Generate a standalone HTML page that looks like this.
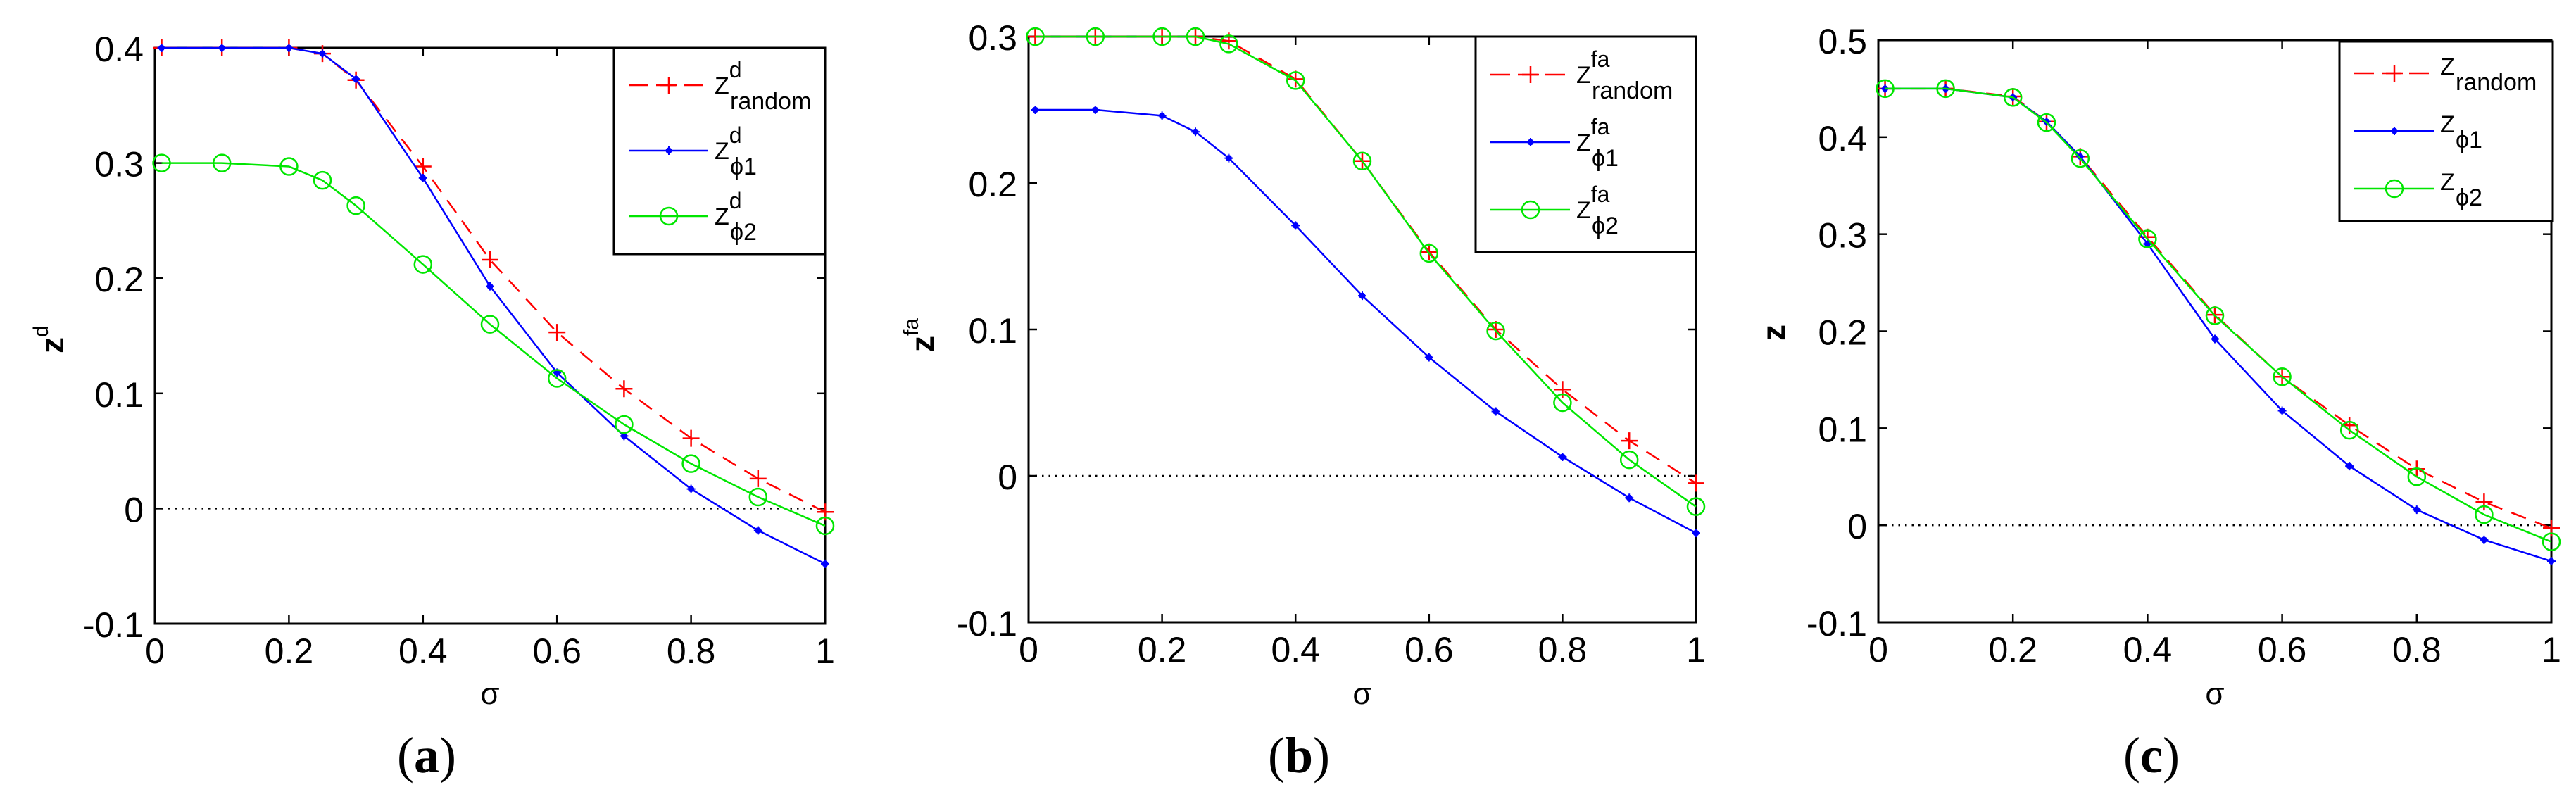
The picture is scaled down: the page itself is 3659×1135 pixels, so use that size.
<!DOCTYPE html>
<html><head><meta charset="utf-8"><style>
html,body{margin:0;padding:0;background:#fff;}
svg{display:block;}
</style></head><body>
<svg id="fig" width="3659" height="1135" viewBox="0 0 3659 1135" xmlns="http://www.w3.org/2000/svg" font-family="Liberation Sans, sans-serif"></svg>
<script>
const xVals = [0.01,0.1,0.2,0.25,0.3,0.4,0.5,0.6,0.7,0.8,0.9,1.0];
const xTicks = [0,0.2,0.4,0.6,0.8,1];
const xTickLabels = ["0","0.2","0.4","0.6","0.8","1"];

const aRandom = [0.4,0.4,0.4,0.395,0.372,0.297,0.216,0.153,0.104,0.061,0.026,-0.003];
const aPhi1   = [0.4,0.4,0.4,0.395,0.373,0.287,0.193,0.118,0.063,0.017,-0.019,-0.048];
const aPhi2   = [0.3,0.3,0.297,0.285,0.263,0.212,0.16,0.113,0.073,0.039,0.01,-0.015];
const aYTicks = [-0.1,0,0.1,0.2,0.3,0.4];
const aYTickLabels = ["-0.1","0","0.1","0.2","0.3","0.4"];

const bRandom = [0.3,0.3,0.3,0.3,0.297,0.271,0.215,0.153,0.1,0.059,0.024,-0.005];
const bPhi1   = [0.25,0.25,0.246,0.235,0.217,0.171,0.123,0.081,0.044,0.013,-0.015,-0.039];
const bPhi2   = [0.3,0.3,0.3,0.3,0.295,0.27,0.215,0.152,0.099,0.05,0.011,-0.021];
const bYTicks = [-0.1,0,0.1,0.2,0.3];
const bYTickLabels = ["-0.1","0","0.1","0.2","0.3"];

const cRandom = [0.45,0.45,0.442,0.416,0.38,0.297,0.217,0.153,0.103,0.058,0.024,-0.003];
const cPhi1   = [0.45,0.45,0.441,0.416,0.38,0.29,0.192,0.118,0.061,0.016,-0.015,-0.037];
const cPhi2   = [0.45,0.45,0.441,0.415,0.378,0.295,0.216,0.153,0.098,0.05,0.011,-0.017];
const cYTicks = [-0.1,0,0.1,0.2,0.3,0.4,0.5];
const cYTickLabels = ["-0.1","0","0.1","0.2","0.3","0.4","0.5"];

const NS = "http://www.w3.org/2000/svg";
const svg = document.getElementById("fig");
function mk(tag, attrs, parent, text){
  const e = document.createElementNS(NS, tag);
  for (const k in attrs) e.setAttribute(k, attrs[k]);
  if (text !== undefined) e.textContent = text;
  (parent||svg).appendChild(e);
  return e;
}

function panel(cfg){
  const g = mk("g", {});
  
  
  const L=cfg.L,R=cfg.R,T=cfg.T,B=cfg.B,y0=cfg.ymin,y1=cfg.ymax;
  const sx = v => L + (v-0)*(R-L)/1;
  const sy = v => B - (v-y0)*(B-T)/(y1-y0);
  const z = mk("line",{x1:L,x2:R,y1:sy(0),y2:sy(0),stroke:"#000","stroke-width":2.5,"stroke-dasharray":"2.5 7"},g);
  
  
  xTicks.forEach((t,i)=>{
    const x = sx(t);
    mk("line",{x1:x,x2:x,y1:B,y2:B-12,stroke:"#000","stroke-width":2.5},g);
    mk("line",{x1:x,x2:x,y1:T,y2:T+12,stroke:"#000","stroke-width":2.5},g);
    const tl = mk("text",{x:x,y:B+56,"font-size":50,"text-anchor":"middle",fill:"#000"},g,xTickLabels[i]);
    
    
  });
  cfg.yTicks.forEach((t,i)=>{
    const y = sy(t);
    mk("line",{x1:L,x2:L+12,y1:y,y2:y,stroke:"#000","stroke-width":2.5},g);
    mk("line",{x1:R,x2:R-12,y1:y,y2:y,stroke:"#000","stroke-width":2.5},g);
    const tl = mk("text",{x:L-16,y:y+19,"font-size":50,"text-anchor":"end",fill:"#000"},g,cfg.yTickLabels[i]);
    
    
  });
  const frame = mk("rect",{x:L,y:T,width:R-L,height:B-T,fill:"none",stroke:"#000","stroke-width":3},g);
  
  

  function series(vals, color, dash, marker, name){
    const sg = mk("g",{},g);
    
    
    const pts = vals.map((v,i)=>sx(xVals[i])+","+sy(v)).join(" ");
    const attrs = {points:pts,fill:"none",stroke:color,"stroke-width":2.5};
    if (dash) attrs["stroke-dasharray"]=dash;
    mk("polyline",attrs,sg);
    vals.forEach((v,i)=>drawMarker(sg, marker, sx(xVals[i]), sy(v), color));
  }
  series(cfg.random,"#ff0000","22 14","plus","series-random");
  series(cfg.phi1,"#0000ff",null,"dot","series-phi1");
  series(cfg.phi2,"#00e600",null,"circle","series-phi2");

  const lg = mk("g",{},g);
  
  
  const lx=cfg.legX, ly=cfg.legY, lw=cfg.legW, lh=cfg.legH;
  mk("rect",{x:lx,y:ly,width:lw,height:lh,fill:"#fff",stroke:"#000","stroke-width":3},lg);
  const rows=[["#ff0000","22 14","plus","random"],["#0000ff",null,"dot","\u03d51"],["#00e600",null,"circle","\u03d52"]];
  rows.forEach((r,i)=>{
    const y = ly + cfg.legRow0 + i*cfg.legStep;
    const e = mk("g",{},lg);
    
    
    const a = {x1:lx+21,x2:lx+134,y1:y,y2:y,stroke:r[0],"stroke-width":2.5};
    if (r[1]) a["stroke-dasharray"]="28 11";
    mk("line",a,e);
    drawMarker(e,r[2],lx+78,y,r[0]);
    if (cfg.sup){
      const t = mk("text",{x:lx+143,y:y+12,"font-size":34,fill:"#000"},e);
      mk("tspan",{},t,"Z");
      mk("tspan",{dy:-23,"font-size":32},t,cfg.sup);
      mk("tspan",{x:lx+165,dy:45,"font-size":34},t,r[3]);
    } else {
      mk("text",{x:lx+143,y:y+2,"font-size":34,fill:"#000"},e,"Z");
      mk("text",{x:lx+165,y:y+24,"font-size":34,fill:"#000"},e,r[3]);
    }
  });
  const yl = mk("text",{transform:`translate(${cfg.ylX},${cfg.ylY}) rotate(-90)`,"font-size":46,"font-weight":"bold",fill:"#000"},g);
  
  
  mk("tspan",{},yl,"z");
  if (cfg.sup) mk("tspan",{dy:-22,"font-size":30,"font-weight":"normal"},yl,cfg.sup);
  const xl = mk("text",{x:(L+R)/2,y:1000,"font-size":44,"text-anchor":"middle",fill:"#000"},g,"\u03c3");
  
  
  const cap = mk("text",{x:(L+R)/2 - 90,y:1097,"font-size":72,"text-anchor":"middle","font-family":"Liberation Serif, serif",fill:"#000"},g);
  
  
  mk("tspan",{},cap,"(");
  mk("tspan",{"font-weight":"bold"},cap,cfg.id);
  mk("tspan",{},cap,")");
}

function drawMarker(p, type, x, y, color){
  if (type==="plus"){
    mk("path",{d:`M${x-12},${y}H${x+12}M${x},${y-12}V${y+12}`,stroke:color,"stroke-width":2.5,fill:"none"},p);
  } else if (type==="dot"){
    mk("circle",{cx:x,cy:y,r:4.5,fill:color},p);
    mk("path",{d:`M${x-6},${y}H${x+6}M${x},${y-6}V${y+6}`,stroke:color,"stroke-width":2},p);
  } else {
    mk("circle",{cx:x,cy:y,r:12,fill:"none",stroke:color,"stroke-width":2.5},p);
  }
}

panel({id:"a",L:220,R:1172,T:68,B:886,ymin:-0.1,ymax:0.4,yTicks:aYTicks,yTickLabels:aYTickLabels,
  random:aRandom,phi1:aPhi1,phi2:aPhi2,sup:"d",legX:872,legY:68,legW:300,legH:293,legRow0:53,legStep:93,ylX:90,ylY:502});
panel({id:"b",L:1461,R:2409,T:52,B:884,ymin:-0.1,ymax:0.3,yTicks:bYTicks,yTickLabels:bYTickLabels,
  random:bRandom,phi1:bPhi1,phi2:bPhi2,sup:"fa",legX:2096,legY:52,legW:313,legH:306,legRow0:54,legStep:96,ylX:1326,ylY:500});
panel({id:"c",L:2668,R:3624,T:57,B:884,ymin:-0.1,ymax:0.5,yTicks:cYTicks,yTickLabels:cYTickLabels,
  random:cRandom,phi1:cPhi1,phi2:cPhi2,sup:"",legX:3323,legY:59,legW:303,legH:255,legRow0:45,legStep:82,ylX:2535,ylY:484});
</script>
</body></html>
